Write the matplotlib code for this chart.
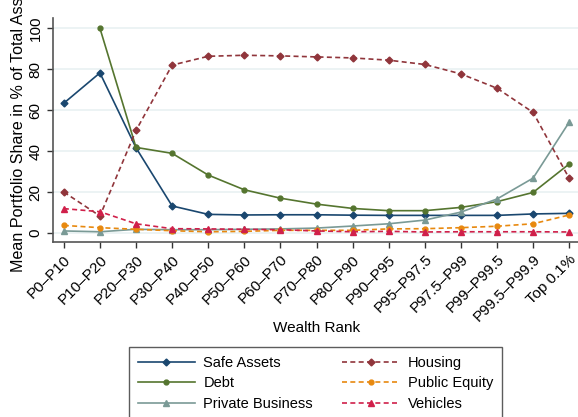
import numpy as np
import matplotlib
matplotlib.use("Agg")
import matplotlib.pyplot as plt

plt.rcParams['font.family'] = ['Liberation Sans', 'DejaVu Sans']

# Wealth groups
ranks = ["P0–P10", "P10–P20", "P20–P30", "P30–P40", "P40–P50", "P50–P60",
         "P60–P70", "P70–P80", "P80–P90", "P90–P95", "P95–P97.5", "P97.5–P99",
         "P99–P99.5", "P99.5–P99.9", "Top 0.1%"]

# Mean portfolio shares (% of total assets)
safe_assets = [63.4, 78.2, 41.6, 13.2, 9.1, 8.8, 8.9, 8.9, 8.7, 8.6, 8.6, 8.6, 8.6, 9.3, 9.6]
debt = [np.nan, 100.0, 41.8, 38.9, 28.3, 21.1, 17.0, 14.1, 12.0, 10.9, 10.9, 12.5, 15.3, 19.8, 33.7]
private_business = [1.0, 0.6, 1.8, 1.6, 1.6, 1.8, 2.0, 2.4, 3.4, 4.5, 6.3, 10.2, 16.6, 26.8, 54.1]
housing = [20.0, 8.3, 50.1, 82.0, 86.3, 86.8, 86.5, 86.0, 85.5, 84.4, 82.3, 77.7, 70.7, 58.9, 26.7]
public_equity = [3.7, 2.6, 1.8, 1.1, 0.6, 0.8, 1.3, 1.3, 1.3, 2.0, 2.1, 2.6, 3.3, 4.5, 8.8]
vehicles = [11.9, 10.4, 4.5, 2.1, 2.0, 1.8, 1.6, 1.0, 0.6, 0.8, 0.5, 0.6, 0.6, 0.6, 0.5]

x = np.arange(len(ranks))

fig = plt.figure(figsize=(5.78, 4.17), dpi=100)
ax = fig.add_axes([53/578, 1 - 242/417, 527/578, (242 - 18)/417])

dash = (0, (3, 2))
ax.plot(x, safe_assets, color='#1a476f', lw=1.2, marker='D', ms=3.5, label='Safe Assets')
ax.plot(x, debt, color='#55752f', lw=1.2, marker='o', ms=3.5, label='Debt')
ax.plot(x, private_business, color='#7a9a96', lw=1.2, marker='^', ms=4, label='Private Business')
ax.plot(x, housing, color='#90353b', lw=1.2, ls=dash, marker='D', ms=3.5, label='Housing')
ax.plot(x, public_equity, color='#e8890f', lw=1.2, ls=dash, marker='o', ms=3.5, label='Public Equity')
ax.plot(x, vehicles, color='#d0204a', lw=1.2, ls=dash, marker='^', ms=4, label='Vehicles')

ax.set_xlim(-0.3, 14.3)
ax.set_ylim(-4.4, 105)
ax.set_yticks([0, 20, 40, 60, 80, 100])
ax.set_yticklabels(['0', '20', '40', '60', '80', '100'], rotation=90, va='center')
ax.set_xticks(x)
ax.set_xticklabels(ranks, rotation=45, ha='right', rotation_mode='anchor')
ax.tick_params(labelsize=11, length=4, color='#333333', width=1)
ax.grid(axis='y', color='#eaf2f3', lw=1.3)
ax.set_axisbelow(True)
for s in ['top', 'right']:
    ax.spines[s].set_visible(False)
for s in ['left', 'bottom']:
    ax.spines[s].set_color('#555555')
    ax.spines[s].set_linewidth(1.2)

ax.set_xlabel('Wealth Rank', fontsize=11, va='center')
ax.xaxis.set_label_coords(0.5, -(328 - 242) / 224)
# the reference crops this label at the top edge
fig.text(19/578, 1 - 272/417, 'Mean Portfolio Share in % of Total Assets',
         rotation=90, ha='center', va='bottom', fontsize=11.6)

leg = fig.legend(loc='upper left', bbox_to_anchor=(129/578, 1 - 347/417), ncol=2,
                 fontsize=10.5, frameon=True, fancybox=False, edgecolor='#333333',
                 handlelength=3.9, columnspacing=2.0, labelspacing=0.45,
                 borderpad=0.6, handletextpad=0.6, borderaxespad=0)
leg.get_frame().set_linewidth(1.0)

fig.savefig('out.png', dpi=100)
